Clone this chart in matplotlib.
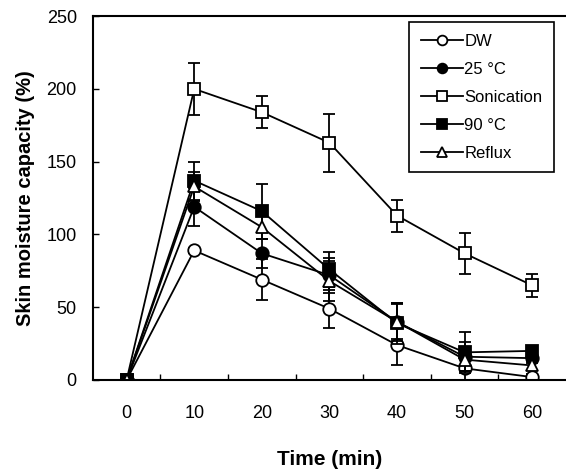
import matplotlib
matplotlib.use("Agg")
from matplotlib import pyplot as plt
from matplotlib.ticker import MultipleLocator

plt.rcParams['font.family'] = ['Liberation Sans', 'DejaVu Sans']

# time points (min)
t = [0, 10, 20, 30, 40, 50, 60]

# skin moisture capacity (%) and error
dw = [0, 89, 69, 49, 24, 8, 2]
dw_err = [0, 2, 14, 13, 14, 13, 2]
c25 = [0, 119, 87, 72, 40, 16, 15]
c25_err = [0, 13, 10, 12, 13, 10, 3]
sonic = [0, 200, 184, 163, 113, 87, 65]
sonic_err = [0, 18, 11, 20, 11, 14, 8]
c90 = [0, 137, 116, 76, 39, 19, 20]
c90_err = [0, 13, 19, 12, 14, 14, 3]
reflux = [0, 133, 105, 68, 40, 14, 10]
reflux_err = [0, 10, 8, 14, 12, 8, 3]

series = [
    ('DW', dw, dw_err, 'o', 'white'),
    ('25 °C', c25, c25_err, 'o', 'black'),
    ('Sonication', sonic, sonic_err, 's', 'white'),
    ('90 °C', c90, c90_err, 's', 'black'),
    ('Reflux', reflux, reflux_err, '^', 'white'),
]

fig = plt.figure(figsize=(5.66, 4.75), dpi=100)
ax = fig.add_axes([0.164, 0.2, 0.836, 0.766])

for name, y, e, m, fc in series:
    ax.errorbar(t, y, yerr=e, fmt='none', ecolor='black',
                elinewidth=1.3, capsize=4, capthick=1.3)
    ax.plot(t, y, color='black', marker=m, markersize=9,
            markerfacecolor=fc, markeredgecolor='black', markeredgewidth=1.3,
            linewidth=1.3, label=name)

ax.set_xlim(-5, 65)
ax.set_ylim(0, 250)
ax.set_xticks(t)
ax.set_xticks([5, 15, 25, 35, 45, 55], minor=True)
ax.yaxis.set_major_locator(MultipleLocator(50))
ax.tick_params(axis='x', which='major', length=0, pad=18, labelsize=13)
ax.tick_params(axis='x', which='minor', direction='in', length=4, width=1)
ax.tick_params(axis='y', direction='in', length=4, width=1, pad=11.5, labelsize=13)
ax.spines['right'].set_visible(False)
for s in ['left', 'bottom', 'top']:
    ax.spines[s].set_linewidth(1.5)

ax.set_xlabel('Time (min)', fontsize=15, fontweight='bold', labelpad=20)
ax.set_ylabel('Skin moisture capacity (%)', fontsize=14.5, fontweight='bold', labelpad=8)

leg = ax.legend(loc='upper right', bbox_to_anchor=(0.975, 0.984), fontsize=12,
                frameon=True, fancybox=False, edgecolor='black', framealpha=1,
                handlelength=2.5, labelspacing=0.78, borderpad=0.7,
                handletextpad=0.1, borderaxespad=0)
leg.get_frame().set_linewidth(1.2)
for h in leg.legend_handles:
    h.set_markersize(7)

fig.savefig('out.png', dpi=100)
